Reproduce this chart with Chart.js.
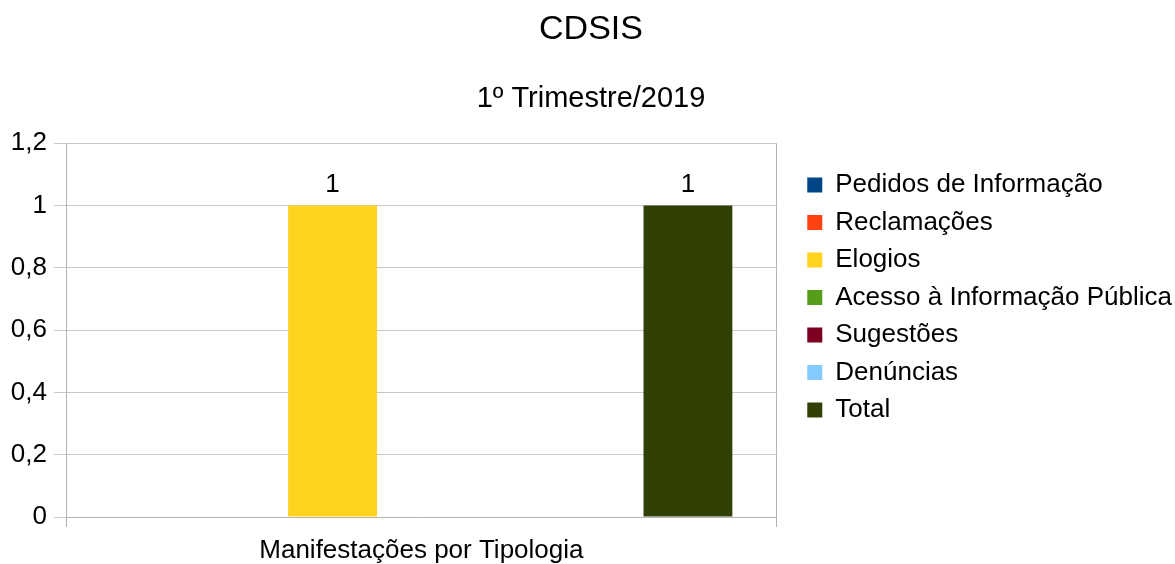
<!DOCTYPE html>
<html>
<head>
<meta charset="utf-8">
<script src="https://cdn.jsdelivr.net/npm/chart.js@4.4.1/dist/chart.umd.min.js"></script>
<style>
  body { margin: 0; background: #fff; }
</style>
</head>
<body>
<canvas id="chart" width="1175" height="564"></canvas>
<script>
const categories = ["Manifestações por Tipologia"];
const seriesNames = ["Pedidos de Informação", "Reclamações", "Elogios", "Acesso à Informação Pública", "Sugestões", "Denúncias", "Total"];
// empty series have no bar and no label in the picture
const seriesValues = [null, null, 1, null, null, null, 1];
const seriesColors = ["#004586", "#ff420e", "#ffd320", "#579d1c", "#7e0021", "#83caff", "#314004"];
const yTickLabels = ["0", "0,2", "0,4", "0,6", "0,8", "1", "1,2"];

const gridColor = "#b3b3b3";
const hGridColor = "#c8c8c8";
Chart.defaults.font.family = "'Liberation Sans', Arial, sans-serif";
Chart.defaults.color = "#000";

// value labels above the bars
const barLabels = {
  id: "barLabels",
  afterDatasetsDraw(chart) {
    const ctx = chart.ctx;
    ctx.save();
    ctx.font = "26px 'Liberation Sans', Arial, sans-serif";
    ctx.fillStyle = "#000";
    ctx.textAlign = "center";
    ctx.textBaseline = "alphabetic";
    chart.data.datasets.forEach((ds, i) => {
      chart.getDatasetMeta(i).data.forEach((bar, j) => {
        const v = ds.data[j];
        if (v === null || v === undefined) return;
        ctx.fillText(String(v).replace(".", ","), bar.x, bar.y - 13);
      });
    });
    ctx.restore();
  }
};

// the layout caps side boxes at a sixth of the width; let the legend be as wide as its text
const wideLegend = {
  id: "wideLegend",
  beforeLayout(chart) {
    const lg = chart.legend;
    if (!lg || lg._wide) return;
    const fit = lg.fit;
    lg.fit = function () {
      this.maxWidth = 420;
      fit.call(this);
    };
    lg._wide = true;
  }
};

const datasets = seriesNames.map((name, i) => ({
  label: name,
  data: [seriesValues[i]],
  backgroundColor: seriesColors[i],
  borderWidth: 0,
  barPercentage: 1,
  categoryPercentage: 0.875
}));

new Chart(document.getElementById("chart"), {
  type: "bar",
  data: { labels: categories, datasets },
  plugins: [barLabels, wideLegend],
  options: {
    responsive: false,
    animation: false,
    devicePixelRatio: 1,
    layout: { padding: { left: 0, right: -7, top: 0, bottom: 0 } },
    plugins: {
      tooltip: { enabled: false },
      title: {
        display: true,
        text: "CDSIS",
        font: { size: 34, weight: "normal", lineHeight: 1.2 },
        padding: { top: 9, bottom: 0 },
        color: "#000"
      },
      subtitle: {
        display: true,
        text: "1º Trimestre/2019",
        font: { size: 29, weight: "normal", lineHeight: 1.2 },
        padding: { top: 32, bottom: 26.5 },
        color: "#000"
      },
      legend: {
        position: "right",
        align: "center",
        title: { display: true, text: " ", font: { size: 20, lineHeight: 1.55 }, padding: 0 },
        labels: {
          boxWidth: 15,
          boxHeight: 15,
          padding: 11.5,
          font: { size: 26 },
          color: "#000"
        }
      }
    },
    scales: {
      x: {
        grid: { color: gridColor, tickLength: 10, offset: true },
        border: { color: gridColor },
        ticks: { font: { size: 26 }, color: "#000", padding: 8 },
        afterFit: s => { s.height = 47; }
      },
      y: {
        min: 0,
        max: 1.2,
        ticks: {
          stepSize: 0.2,
          font: { size: 26 },
          color: "#000",
          padding: 7,
          callback: (v, i) => yTickLabels[i]
        },
        grid: { color: hGridColor, tickLength: 12 },
        border: { color: gridColor },
        afterFit: s => { s.width = 66; }
      },
      yGap: {
        position: "right",
        display: true,
        grid: { display: false },
        ticks: { display: false },
        border: { display: false },
        afterFit: s => { s.width = 19; }
      }
    }
  }
});
</script>
</body>
</html>
